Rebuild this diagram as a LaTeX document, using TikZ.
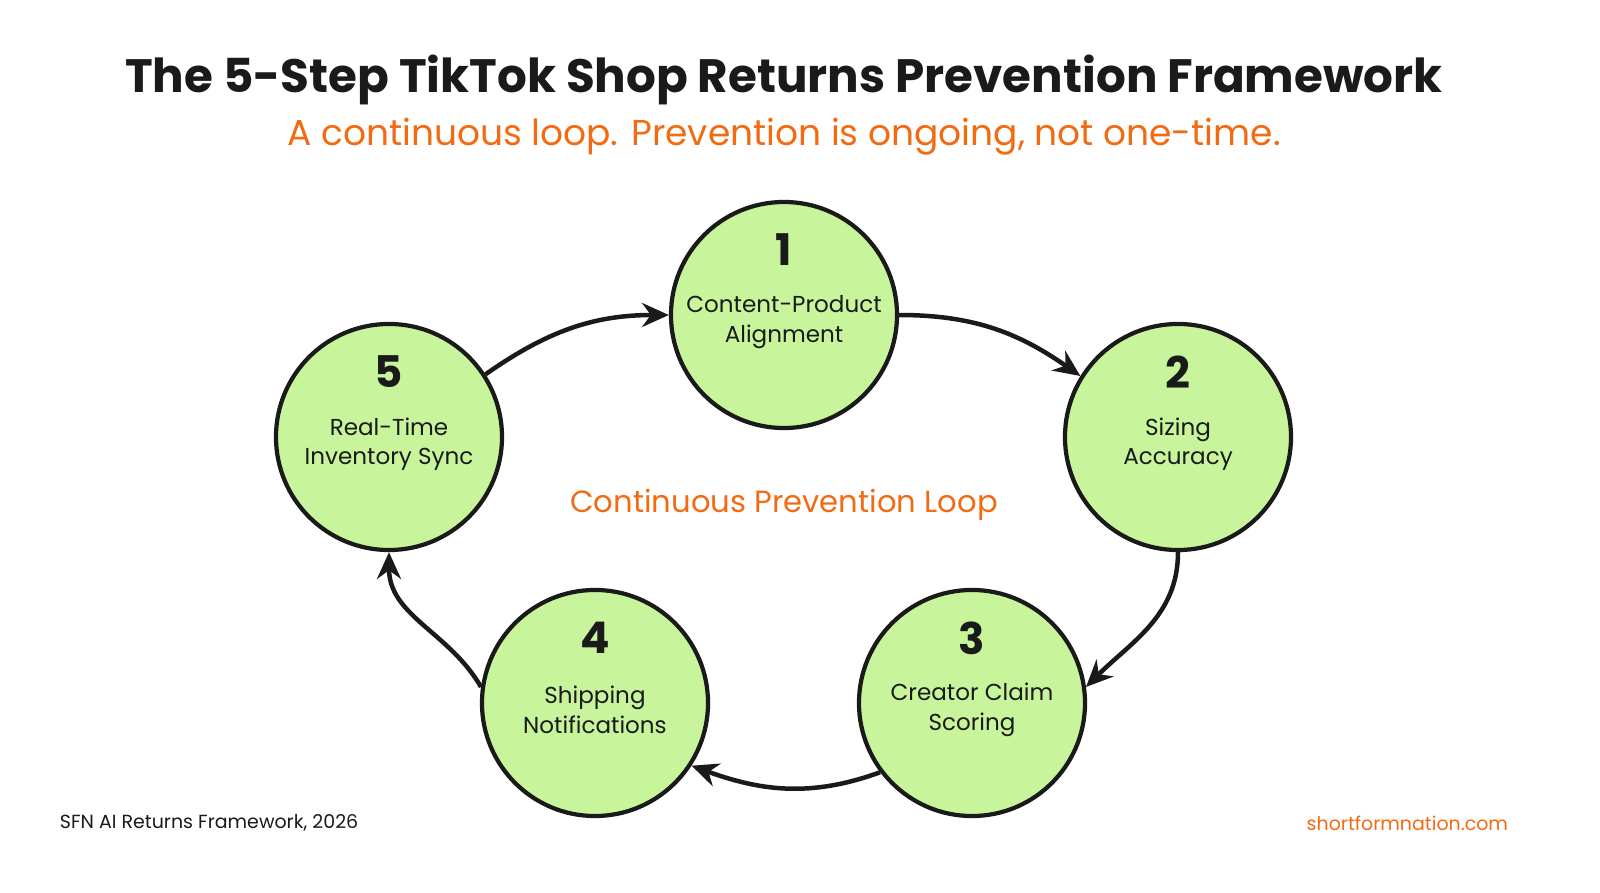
\documentclass[tikz,border=0pt]{standalone}
\usepackage{fontspec}
\setmainfont{Poppins}
\usetikzlibrary{arrows.meta}
\definecolor{stepgreen}{HTML}{C8F59C}
\definecolor{sfnorange}{HTML}{F26B12}
\definecolor{ink}{HTML}{1A1A1A}
\begin{document}
\begin{tikzpicture}[x=0.025cm,y=-0.025cm,
	stepcircle/.style={circle,draw=ink,line width=3pt,fill=stepgreen,minimum size=5.65cm,inner sep=0pt},
	num/.style={font=\fontsize{31}{31}\selectfont\bfseries,text=ink},
	lbl/.style={font=\fontsize{16.4}{21}\selectfont,text=ink,align=center},
	loop/.style={-{Stealth[length=19pt,width=17pt]},line width=3.2pt,draw=ink}]
	\useasboundingbox (0,0) rectangle (1600,893);
	\node[font=\fontsize{33.3}{33}\selectfont\bfseries,text=ink] (title) at (784,80) {The 5-Step TikTok Shop Returns Prevention Framework};
	\node[font=\fontsize{25.6}{25}\selectfont,text=sfnorange] (sub) at (784,137) {A continuous loop. Prevention is ongoing, not one-time.};
	% steps
	\foreach \k/\x/\y/\t in {1/784/315/Content-Product\\Alignment,2/1178/437/Sizing\\Accuracy,3/972/703/Creator Claim\\Scoring,4/595/703/Shipping\\Notifications,5/389/437/Real-Time\\Inventory Sync}{
		\node[stepcircle] (s\k) at (\x,\y) {};
		\node[num] (n\k) at (\x,\y-65) {\k};
		\node[lbl] (t\k) at (\x,\y+7) {\t};
	}
	\node[font=\fontsize{21.8}{21}\selectfont,text=sfnorange] (mid) at (784,505) {Continuous Prevention Loop};
	% arrows
	\draw[loop] (s1.0) to[out=0,in=145] (s2.148);
	\draw[loop] (s2.270) to[out=270,in=45] (s3.8);
	\draw[loop] (s3.217) to[out=200,in=-20] (s4.-33);
	\draw[loop] (s4.172) to[out=120,in=270] (s5.270);
	\draw[loop] (s5.33) to[out=35,in=180] (s1.180);
	\node[anchor=west,font=\fontsize{13.5}{13.5}\selectfont,text=ink] (src) at (55,823) {SFN AI Returns Framework, 2026};
	\node[anchor=east,font=\fontsize{13.5}{13.5}\selectfont,text=sfnorange] (web) at (1513,823) {shortformnation.com};
\end{tikzpicture}
\end{document}
